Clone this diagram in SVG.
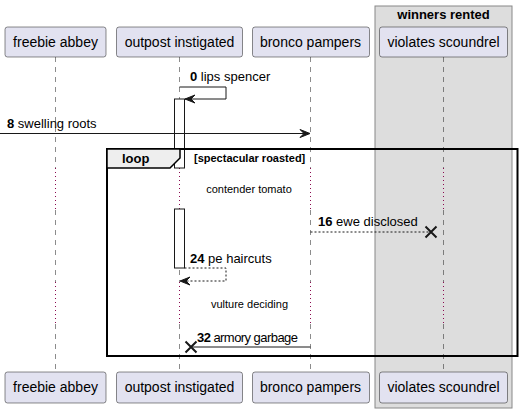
<svg xmlns="http://www.w3.org/2000/svg" width="522" height="413" viewBox="0 0 522 413">
<style>
text{font-family:"Liberation Sans",Arial,sans-serif;fill:#000}
.pbox{fill:#E2E2F0;stroke:#181818;stroke-width:0.5}
.pt{font-size:14px;text-anchor:middle}
.life{stroke:#181818;stroke-width:0.5;stroke-dasharray:5,5;fill:none}
.delay{stroke:#8B0A50;stroke-width:1;stroke-dasharray:1,3;fill:none}
.msg{font-size:13px}
.b{font-weight:bold}
.line{stroke:#181818;stroke-width:1;fill:none}
.dash{stroke:#181818;stroke-width:1;fill:none;stroke-dasharray:2,2}
.head{fill:#181818;stroke:#181818;stroke-width:1}
.cross{stroke:#181818;stroke-width:2;fill:none}
.act{fill:#FFFFFF;stroke:#181818;stroke-width:1}
.note{font-size:11px;text-anchor:middle}
</style>
<g id="group-winners-rented">
<rect x="375" y="6" width="137" height="402" fill="#DDDDDD" stroke="#888888" stroke-width="1"/>
<text x="443.5" y="19" font-size="13" font-weight="bold" text-anchor="middle">winners rented</text>
</g>
<g id="lifelines">
<path class="life" d="M55.5 57V168M55.5 210V282M55.5 324V372"/>
<path class="delay" d="M55.5 168V210M55.5 282V324"/>
<path class="life" d="M179.5 57V168M179.5 210V282M179.5 324V372"/>
<path class="delay" d="M179.5 168V210M179.5 282V324"/>
<path class="life" d="M310.5 57V168M310.5 210V282M310.5 324V372"/>
<path class="delay" d="M310.5 168V210M310.5 282V324"/>
<path class="life" d="M443.5 57V168M443.5 210V282M443.5 324V372"/>
<path class="delay" d="M443.5 168V210M443.5 282V324"/>
</g>
<g id="activation">
<rect class="act" x="174.5" y="99" width="10" height="69"/>
<rect class="act" x="174.5" y="209" width="10" height="59"/>
</g>
<g id="participant-freebie-abbey">
<rect class="pbox" x="5" y="27" width="101" height="30" rx="2.5"/>
<text class="pt" x="55.5" y="47">freebie abbey</text>
<rect class="pbox" x="5" y="372" width="101" height="31" rx="2.5"/>
<text class="pt" x="55.5" y="392">freebie abbey</text>
</g>
<g id="participant-outpost-instigated">
<rect class="pbox" x="116.5" y="27" width="126" height="30" rx="2.5"/>
<text class="pt" x="179.5" y="47">outpost instigated</text>
<rect class="pbox" x="116.5" y="372" width="126" height="31" rx="2.5"/>
<text class="pt" x="179.5" y="392">outpost instigated</text>
</g>
<g id="participant-bronco-pampers">
<rect class="pbox" x="252.5" y="27" width="117" height="30" rx="2.5"/>
<text class="pt" x="310.5" y="47">bronco pampers</text>
<rect class="pbox" x="252.5" y="372" width="117" height="31" rx="2.5"/>
<text class="pt" x="310.5" y="392">bronco pampers</text>
</g>
<g id="participant-violates-scoundrel">
<rect class="pbox" x="379.5" y="27" width="128" height="30" rx="2.5"/>
<text class="pt" x="443.5" y="47">violates scoundrel</text>
<rect class="pbox" x="379.5" y="372" width="128" height="31" rx="2.5"/>
<text class="pt" x="443.5" y="392">violates scoundrel</text>
</g>
<g id="loop-frame">
<rect x="107" y="149" width="410.5" height="207" fill="none" stroke="#000" stroke-width="2"/>
<path d="M107 149H180V158L170 168H107Z" fill="#EEEEEE" stroke="#000" stroke-width="1.5"/>
<text x="122" y="163" font-size="13" font-weight="bold">loop</text>
<text x="194" y="162" font-size="11" font-weight="bold">[spectacular roasted]</text>
</g>
<g id="delays">
<text class="note" x="249" y="193">contender tomato</text>
<text class="note" x="249.5" y="308">vulture deciding</text>
</g>
<g id="connectors">
<path class="line" d="M179.5 87H226V99H185"/>
<polygon class="head" points="185,99 195,95 191,99 195,103"/>
<text class="msg" x="190" y="81"><tspan class="b">0</tspan> lips spencer</text>
<line class="line" x1="0" y1="133.5" x2="309" y2="133.5"/>
<polygon class="head" points="310,133.5 300,129.5 304,133.5 300,137.5"/>
<text class="msg" x="7" y="128"><tspan class="b">8</tspan> swelling roots</text>
<line class="dash" x1="310.5" y1="232" x2="431" y2="232"/>
<path class="cross" d="M425.5 226.5L436.5 237.5M436.5 226.5L425.5 237.5"/>
<text class="msg" x="318" y="226"><tspan class="b">16</tspan> ewe disclosed</text>
<path class="dash" d="M184.5 268H226V281H181"/>
<polygon class="head" points="180,281 190,277 186,281 190,285"/>
<text class="msg" x="190" y="263"><tspan class="b">24</tspan> pe haircuts</text>
<line class="line" x1="310.5" y1="347" x2="191" y2="347"/>
<path class="cross" d="M185.5 341.5L196.5 352.5M196.5 341.5L185.5 352.5"/>
<text class="msg" x="197" y="342" textLength="101"><tspan class="b">32</tspan> armory garbage</text>
</g>
</svg>
